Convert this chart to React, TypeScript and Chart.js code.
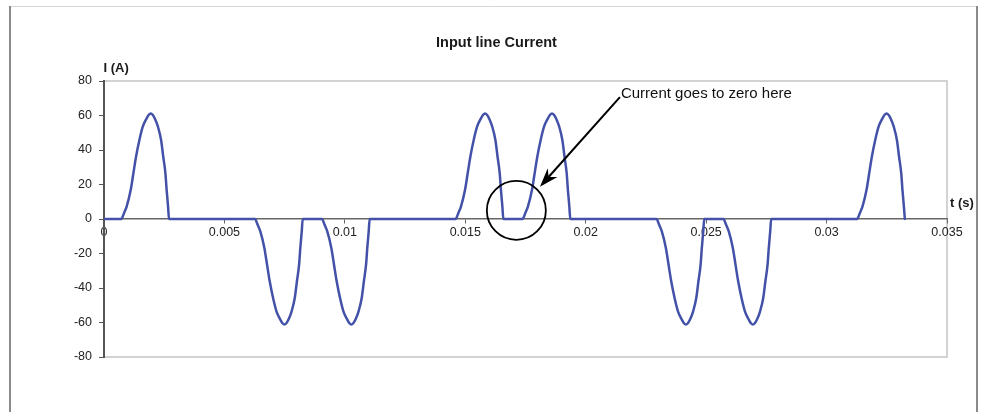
import React, { useEffect, useRef } from "react";
import { Chart, registerables } from "chart.js";

Chart.register(...registerables);

// ---- text ----
const chartTitle = "Input line Current";
const yAxisTitle = "I (A)";
const xAxisTitle = "t (s)";
const noteText = "Current goes to zero here";

// ---- ticks ----
const xTickValues = [0, 0.005, 0.01, 0.015, 0.02, 0.025, 0.03, 0.035];
const xTickLabels = ["0", "0.005", "0.01", "0.015", "0.02", "0.025", "0.03", "0.035"];
const yTickValues = [-80, -60, -40, -20, 0, 20, 40, 60, 80];

// ---- series: line current (t in s, I in A) ----
const startTime = [0];
const startCurrent = [0];

const pos1Time = [0.00072, 0.00083, 0.00094, 0.00111, 0.00122, 0.00133, 0.00147, 0.00161, 0.00177, 0.00186, 0.00194, 0.00202, 0.00211, 0.00224, 0.00237, 0.00246, 0.00255, 0.0026, 0.00266, 0.0027];
const pos1Current = [0, 3.4, 7.2, 16.9, 26.5, 36.1, 45.8, 53.5, 58.3, 60.4, 61.2, 60.4, 58.3, 53.5, 45.8, 36.1, 26.5, 16.9, 7.2, 0];

const neg1Time = [0.00627, 0.00638, 0.00649, 0.00666, 0.00677, 0.00688, 0.00702, 0.00716, 0.00732, 0.00741, 0.00749, 0.00757, 0.00766, 0.00779, 0.00792, 0.00801, 0.0081, 0.00815, 0.00821, 0.00825];
const neg1Current = [0, -3.4, -7.2, -16.9, -26.5, -36.1, -45.8, -53.5, -58.3, -60.4, -61.2, -60.4, -58.3, -53.5, -45.8, -36.1, -26.5, -16.9, -7.2, 0];

const neg2Time = [0.00905, 0.00916, 0.00927, 0.00944, 0.00955, 0.00966, 0.0098, 0.00994, 0.0101, 0.01019, 0.01027, 0.01035, 0.01044, 0.01057, 0.0107, 0.01079, 0.01088, 0.01093, 0.01099, 0.01103];
const neg2Current = [0, -3.4, -7.2, -16.9, -26.5, -36.1, -45.8, -53.5, -58.3, -60.4, -61.2, -60.4, -58.3, -53.5, -45.8, -36.1, -26.5, -16.9, -7.2, 0];

const pos2Time = [0.0146, 0.01471, 0.01482, 0.01499, 0.0151, 0.01521, 0.01535, 0.01549, 0.01565, 0.01574, 0.01582, 0.0159, 0.01599, 0.01612, 0.01625, 0.01634, 0.01643, 0.01648, 0.01654, 0.01658];
const pos2Current = [0, 3.4, 7.2, 16.9, 26.5, 36.1, 45.8, 53.5, 58.3, 60.4, 61.2, 60.4, 58.3, 53.5, 45.8, 36.1, 26.5, 16.9, 7.2, 0];

const pos3Time = [0.01738, 0.01749, 0.0176, 0.01777, 0.01788, 0.01799, 0.01813, 0.01827, 0.01843, 0.01852, 0.0186, 0.01868, 0.01877, 0.0189, 0.01903, 0.01912, 0.01921, 0.01926, 0.01932, 0.01936];
const pos3Current = [0, 3.4, 7.2, 16.9, 26.5, 36.1, 45.8, 53.5, 58.3, 60.4, 61.2, 60.4, 58.3, 53.5, 45.8, 36.1, 26.5, 16.9, 7.2, 0];

const neg3Time = [0.02294, 0.02305, 0.02316, 0.02333, 0.02344, 0.02355, 0.02369, 0.02383, 0.02399, 0.02408, 0.02416, 0.02424, 0.02433, 0.02446, 0.02459, 0.02468, 0.02477, 0.02482, 0.02488, 0.02492];
const neg3Current = [0, -3.4, -7.2, -16.9, -26.5, -36.1, -45.8, -53.5, -58.3, -60.4, -61.2, -60.4, -58.3, -53.5, -45.8, -36.1, -26.5, -16.9, -7.2, 0];

const neg4Time = [0.02572, 0.02583, 0.02594, 0.02611, 0.02622, 0.02633, 0.02647, 0.02661, 0.02677, 0.02686, 0.02694, 0.02702, 0.02711, 0.02724, 0.02737, 0.02746, 0.02755, 0.0276, 0.02766, 0.0277];
const neg4Current = [0, -3.4, -7.2, -16.9, -26.5, -36.1, -45.8, -53.5, -58.3, -60.4, -61.2, -60.4, -58.3, -53.5, -45.8, -36.1, -26.5, -16.9, -7.2, 0];

const pos4Time = [0.03127, 0.03138, 0.03149, 0.03166, 0.03177, 0.03188, 0.03202, 0.03216, 0.03232, 0.03241, 0.03249, 0.03257, 0.03266, 0.03279, 0.03292, 0.03301, 0.0331, 0.03315, 0.03321, 0.03325];
const pos4Current = [0, 3.4, 7.2, 16.9, 26.5, 36.1, 45.8, 53.5, 58.3, 60.4, 61.2, 60.4, 58.3, 53.5, 45.8, 36.1, 26.5, 16.9, 7.2, 0];

// ---- annotation anchors (data coordinates) ----
const circleCenterT = 0.01712;
const circleCenterI = 5.0;
const arrowFromT = 0.02142;
const arrowFromI = 70.7;
const arrowToT = 0.0181;
const arrowToI = 18.7;

const FONT = '"Liberation Sans", Arial, Helvetica, sans-serif';

const segments: [number[], number[]][] = [
  [startTime, startCurrent],
  [pos1Time, pos1Current],
  [neg1Time, neg1Current],
  [neg2Time, neg2Current],
  [pos2Time, pos2Current],
  [pos3Time, pos3Current],
  [neg3Time, neg3Current],
  [neg4Time, neg4Current],
  [pos4Time, pos4Current],
];

const decorPlugin = {
  id: "decor",
  beforeDraw(chart: any) {
    const { ctx, chartArea: a } = chart;
    ctx.save();
    ctx.fillStyle = "#ffffff";
    ctx.fillRect(0, 0, chart.width, chart.height);
    // outer frame
    ctx.strokeStyle = "#d6d6d6";
    ctx.lineWidth = 1;
    ctx.beginPath();
    ctx.moveTo(10, 6.5);
    ctx.lineTo(977, 6.5);
    ctx.stroke();
    ctx.strokeStyle = "#8a8a8a";
    ctx.lineWidth = 2;
    ctx.beginPath();
    ctx.moveTo(10, 6);
    ctx.lineTo(10, 412);
    ctx.moveTo(977, 6);
    ctx.lineTo(977, 412);
    ctx.stroke();
    // plot area border
    ctx.strokeStyle = "#c4c4c4";
    ctx.lineWidth = 1.5;
    ctx.strokeRect(a.left, a.top, a.right - a.left, a.bottom - a.top);
    ctx.restore();
  },
  afterDatasetsDraw(chart: any) {
    const { ctx, chartArea: a } = chart;
    const xs = chart.scales.x;
    const ys = chart.scales.y;
    ctx.save();
    // circle
    const cx = xs.getPixelForValue(circleCenterT);
    const cy = ys.getPixelForValue(circleCenterI);
    ctx.strokeStyle = "#000";
    ctx.lineWidth = 1.8;
    ctx.beginPath();
    ctx.arc(cx, cy, 29.5, 0, Math.PI * 2);
    ctx.stroke();
    // arrow
    const x0 = xs.getPixelForValue(arrowFromT);
    const y0 = ys.getPixelForValue(arrowFromI);
    const x1 = xs.getPixelForValue(arrowToT);
    const y1 = ys.getPixelForValue(arrowToI);
    const dx = x1 - x0;
    const dy = y1 - y0;
    const len = Math.hypot(dx, dy);
    const ux = dx / len;
    const uy = dy / len;
    const nx = -uy;
    const ny = ux;
    const headLen = 19;
    const headHalf = 6.5;
    const notch = 13;
    ctx.beginPath();
    ctx.moveTo(x0, y0);
    ctx.lineTo(x1 - ux * notch, y1 - uy * notch);
    ctx.lineWidth = 2;
    ctx.stroke();
    ctx.fillStyle = "#000";
    ctx.beginPath();
    ctx.moveTo(x1, y1);
    ctx.lineTo(x1 - ux * headLen + nx * headHalf, y1 - uy * headLen + ny * headHalf);
    ctx.lineTo(x1 - ux * notch, y1 - uy * notch);
    ctx.lineTo(x1 - ux * headLen - nx * headHalf, y1 - uy * headLen - ny * headHalf);
    ctx.closePath();
    ctx.fill();
    // note text
    ctx.fillStyle = "#111";
    ctx.font = `15px ${FONT}`;
    ctx.textAlign = "left";
    ctx.textBaseline = "alphabetic";
    ctx.fillText(noteText, x0 + 1, y0 + 0.5);

    // titles
    ctx.fillStyle = "#1a1a1a";
    ctx.font = `bold 14.5px ${FONT}`;
    ctx.textAlign = "center";
    ctx.fillText(chartTitle, 496.5, 47);
    ctx.font = `bold 13px ${FONT}`;
    ctx.textAlign = "left";
    ctx.fillText(yAxisTitle, a.left - 0.5, a.top - 9);
    const zeroY = ys.getPixelForValue(0);
    ctx.fillText(xAxisTitle, a.right + 3, zeroY - 12);
    ctx.restore();
  },
};

export default function App() {
  const canvasRef = useRef<HTMLCanvasElement | null>(null);

  useEffect(() => {
    const canvas = canvasRef.current;
    if (!canvas) return;
    const points = segments.flatMap(([t, c]) => t.map((x, i) => ({ x, y: c[i] })));
    const chart = new Chart(canvas, {
      type: "line",
      data: {
        datasets: [
          {
            data: points,
            borderColor: "#4352a8",
            borderWidth: 2.5,
            borderJoinStyle: "round",
            borderCapStyle: "round",
            pointRadius: 0,
            fill: false,
            cubicInterpolationMode: "monotone",
          },
        ],
      },
      options: {
        animation: false,
        responsive: false,
        devicePixelRatio: 1,
        layout: { padding: { left: 0, top: 81, right: 36, bottom: 55 } },
        plugins: {
          legend: { display: false },
          title: { display: false },
          tooltip: { enabled: false },
        },
        scales: {
          x: {
            type: "linear",
            position: { y: 0 } as any,
            min: 0,
            max: 0.035,
            afterBuildTicks: (s: any) => {
              s.ticks = xTickValues.map((v) => ({ value: v }));
            },
            afterFit: (s: any) => {
              s.paddingLeft = 0;
              s.paddingRight = 0;
              s.paddingTop = 0;
              s.paddingBottom = 0;
            },
            ticks: {
              autoSkip: false,
              maxRotation: 0,
              padding: 2,
              color: "#222",
              font: { family: FONT, size: 12.5 },
              callback: (_v: any, i: number) => xTickLabels[i],
            },
            grid: {
              drawOnChartArea: false,
              drawTicks: true,
              tickLength: 4,
              color: "#666",
            },
            border: { display: true, color: "#666", width: 1.5 },
          },
          y: {
            type: "linear",
            position: "left",
            min: -80,
            max: 80,
            afterBuildTicks: (s: any) => {
              s.ticks = yTickValues.map((v) => ({ value: v }));
            },
            afterFit: (s: any) => {
              s.width = 104;
              s.paddingLeft = 0;
              s.paddingRight = 0;
              s.paddingTop = 0;
              s.paddingBottom = 0;
            },
            ticks: {
              padding: 7,
              color: "#222",
              font: { family: FONT, size: 12.5 },
              callback: (v: any) => String(v),
            },
            grid: {
              drawOnChartArea: false,
              drawTicks: true,
              tickLength: 5,
              color: "#555",
            },
            border: { display: true, color: "#555", width: 2 },
          },
        },
      },
      plugins: [decorPlugin],
    });
    return () => chart.destroy();
  }, []);

  return (
    <div style={{ position: "fixed", left: 0, top: 0, width: 983, height: 412, background: "#fff" }}>
      <canvas ref={canvasRef} width={983} height={412} style={{ display: "block", width: 983, height: 412 }} />
    </div>
  );
}
